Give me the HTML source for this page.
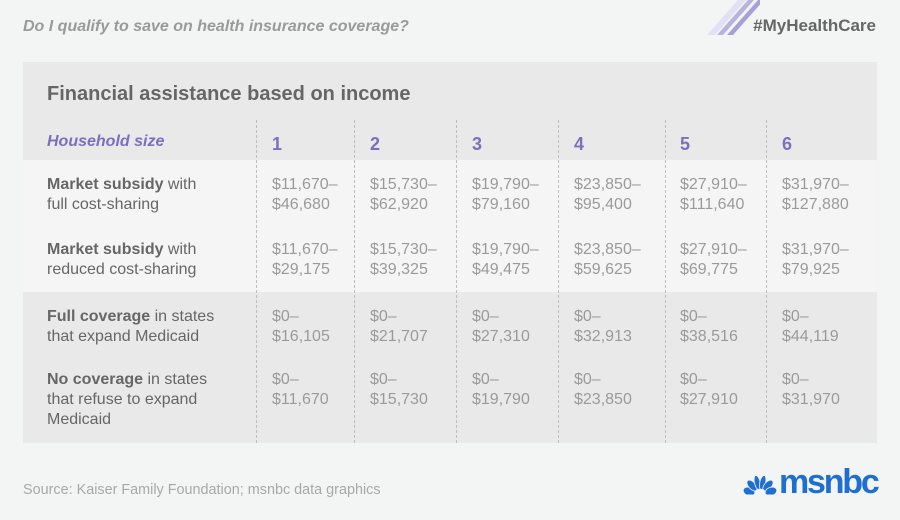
<!DOCTYPE html>
<html><head><meta charset="utf-8"><style>
html,body{margin:0;padding:0}
body{width:900px;height:520px;background:#f3f4f4;position:relative;overflow:hidden;font-family:"Liberation Sans",Arial,sans-serif}
.a{position:absolute;white-space:nowrap}
.q{left:23px;top:17px;font-size:16px;font-weight:bold;font-style:italic;color:#9a9a9a;line-height:20px}
.tag{right:24px;top:16px;font-size:17px;font-weight:bold;color:#666;line-height:20px}
.panel{left:23px;top:62px;width:854px;height:381px;background:#e9e9e9}
.band{left:23px;top:160px;width:854px;height:132px;background:#f5f5f5}
.title{left:47px;top:82px;font-size:20px;font-weight:bold;color:#666;line-height:24px}
.hh{left:47px;top:132px;font-size:16px;font-weight:bold;font-style:italic;color:#7b70bd;line-height:20px}
.cn{top:133px;font-size:18px;font-weight:bold;color:#7b70bd;line-height:22px}
.lbl{left:47px;font-size:16px;color:#666;line-height:20px}
.lbl b{color:#666}
.v{font-size:16px;color:#9a9a9a;line-height:20px}
.dl{position:absolute;top:120px;height:323px;width:0;border-left:1px dashed #bdbdbd}
.src{left:23px;top:481px;font-size:14.4px;color:#a8a8a8;line-height:18px}
.logo{left:779px;top:462px;font-size:34px;font-weight:bold;color:#1f6fd1;line-height:40px;letter-spacing:-2.2px}
</style></head><body>
<svg class="a" style="left:700px;top:0" width="60" height="36" viewBox="0 0 60 36">
<polygon points="7,35 15,35 46,0 38,0" fill="#e2e0f4"/>
<polygon points="17,35 23,35 54,0 48,0" fill="#b8b2df"/>
<polygon points="27,35 33,35 64,0 58,0" fill="#a79fd8"/>
</svg>
<div class="a q">Do I qualify to save on health insurance coverage?</div>
<div class="a tag">#MyHealthCare</div>
<div class="a panel"></div>
<div class="a band"></div>
<div class="a title">Financial assistance based on income</div>
<div class="a hh">Household size</div>
<div class="dl" style="left:256px"></div>
<div class="dl" style="left:354px"></div>
<div class="dl" style="left:456px"></div>
<div class="dl" style="left:558px"></div>
<div class="dl" style="left:665px"></div>
<div class="dl" style="left:766px"></div>
<div class="a cn" style="left:272px">1</div>
<div class="a cn" style="left:370px">2</div>
<div class="a cn" style="left:472px">3</div>
<div class="a cn" style="left:574px">4</div>
<div class="a cn" style="left:680px">5</div>
<div class="a cn" style="left:782px">6</div>

<div class="a lbl" style="top:175px"><b>Market subsidy</b> with<br>full cost-sharing</div>
<div class="a lbl" style="top:240px"><b>Market subsidy</b> with<br>reduced cost-sharing</div>
<div class="a lbl" style="top:307px"><b>Full coverage</b> in states<br>that expand Medicaid</div>
<div class="a lbl" style="top:370px"><b>No coverage</b> in states<br>that refuse to expand<br>Medicaid</div>

<div class="a v" style="left:272px;top:175px">$11,670–<br>$46,680</div>
<div class="a v" style="left:370px;top:175px">$15,730–<br>$62,920</div>
<div class="a v" style="left:472px;top:175px">$19,790–<br>$79,160</div>
<div class="a v" style="left:574px;top:175px">$23,850–<br>$95,400</div>
<div class="a v" style="left:680px;top:175px">$27,910–<br>$111,640</div>
<div class="a v" style="left:782px;top:175px">$31,970–<br>$127,880</div>

<div class="a v" style="left:272px;top:240px">$11,670–<br>$29,175</div>
<div class="a v" style="left:370px;top:240px">$15,730–<br>$39,325</div>
<div class="a v" style="left:472px;top:240px">$19,790–<br>$49,475</div>
<div class="a v" style="left:574px;top:240px">$23,850–<br>$59,625</div>
<div class="a v" style="left:680px;top:240px">$27,910–<br>$69,775</div>
<div class="a v" style="left:782px;top:240px">$31,970–<br>$79,925</div>

<div class="a v" style="left:272px;top:307px">$0–<br>$16,105</div>
<div class="a v" style="left:370px;top:307px">$0–<br>$21,707</div>
<div class="a v" style="left:472px;top:307px">$0–<br>$27,310</div>
<div class="a v" style="left:574px;top:307px">$0–<br>$32,913</div>
<div class="a v" style="left:680px;top:307px">$0–<br>$38,516</div>
<div class="a v" style="left:782px;top:307px">$0–<br>$44,119</div>

<div class="a v" style="left:272px;top:370px">$0–<br>$11,670</div>
<div class="a v" style="left:370px;top:370px">$0–<br>$15,730</div>
<div class="a v" style="left:472px;top:370px">$0–<br>$19,790</div>
<div class="a v" style="left:574px;top:370px">$0–<br>$23,850</div>
<div class="a v" style="left:680px;top:370px">$0–<br>$27,910</div>
<div class="a v" style="left:782px;top:370px">$0–<br>$31,970</div>

<div class="a src">Source: Kaiser Family Foundation; msnbc data graphics</div>

<svg class="a" style="left:742px;top:474px" width="36" height="22" viewBox="0 0 36 22">
<defs><clipPath id="c"><rect x="0" y="0" width="36" height="20.5"/></clipPath></defs>
<g fill="#1f6fd1" stroke="#f3f4f4" stroke-width="0.8" clip-path="url(#c)">
<ellipse cx="7" cy="17.5" rx="4.2" ry="6" transform="rotate(-70 7 17.5)"/>
<ellipse cx="10" cy="11.5" rx="3.6" ry="6.5" transform="rotate(-42 10 11.5)"/>
<ellipse cx="15.3" cy="8.5" rx="2.9" ry="7.2" transform="rotate(-13 15.3 8.5)"/>
<ellipse cx="20.7" cy="8.5" rx="2.9" ry="7.2" transform="rotate(13 20.7 8.5)"/>
<ellipse cx="26" cy="11.5" rx="3.6" ry="6.5" transform="rotate(42 26 11.5)"/>
<ellipse cx="29" cy="17.5" rx="4.2" ry="6" transform="rotate(70 29 17.5)"/>
</g>
</svg>
<div class="a logo">msnbc</div>
</body></html>
